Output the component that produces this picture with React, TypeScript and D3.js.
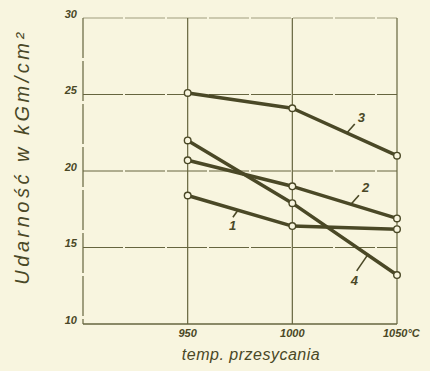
import { scaleLinear, line } from "d3";

const width = 430;
const height = 371;

// temperatura przesycania, °C
const temps = [950, 1000, 1050];
// udarność w kGm/cm² dla krzywych 1..4
const curve1 = [18.4, 16.4, 16.2];
const curve2 = [20.7, 19.0, 16.9];
const curve3 = [25.1, 24.1, 21.0];
const curve4 = [22.0, 17.9, 13.2];
const curveNames = ["1", "2", "3", "4"];
// where the label leader touches each curve (°C)
const labelAt = [974, 1028, 1026, 1036];

const xTicks = [950, 1000, 1050];
const xTickLabels = ["950", "1000", "1050°C"];
const yTicks = [10, 15, 20, 25, 30];

const ink = "#4a4826";
const gridInk = "#66653f";
const paper = "#f8f5df";

// leader/label offsets in px per curve
const labelStyle = [
  { lx: -5, ly: 7, tx: -9, ty: 20 },
  { lx: 8, ly: -9, tx: 11, ty: -12 },
  { lx: 8, ly: -9, tx: 11, ty: -11 },
  { lx: -11, ly: 16, tx: -17, ty: 30 },
];

const App = () => {
  const x = scaleLinear().domain([900, 1050]).range([83, 397]);
  const y = scaleLinear().domain([10, 30]).range([324, 18]);
  const series = [curve1, curve2, curve3, curve4];

  const path = line<number>()
    .x((_, i) => x(temps[i]))
    .y((d) => y(d));

  const valueAt = (vals: number[], t: number) => {
    const i = t <= temps[1] ? 0 : 1;
    const f = (t - temps[i]) / (temps[i + 1] - temps[i]);
    return vals[i] + f * (vals[i + 1] - vals[i]);
  };

  const tickFont = {
    fontFamily: "Liberation Sans, Arial, sans-serif",
    fontStyle: "italic",
    fontWeight: 700,
    fontSize: 11,
    fill: ink,
  };

  return (
    <div style={{ position: "absolute", left: 0, top: 0 }}>
      <svg width={width} height={height} style={{ display: "block" }}>
        <rect width={width} height={height} fill={paper} />

        {/* horizontal grid */}
        {yTicks.map((t) => (
          <line
            key={"h" + t}
            x1={x(900)}
            x2={x(1050)}
            y1={y(t)}
            y2={y(t)}
            stroke={gridInk}
            strokeWidth={t === 10 ? 1.4 : 1}
            strokeDasharray={t === 10 ? undefined : "40 2"}
            opacity={t === 30 ? 0.6 : 1}
          />
        ))}
        {/* vertical grid */}
        {[900, ...xTicks].map((t) => (
          <line
            key={"v" + t}
            x1={x(t)}
            x2={x(t)}
            y1={y(30)}
            y2={y(10)}
            stroke={gridInk}
            strokeWidth={1.2}
            strokeDasharray={t === 900 ? "40 3" : undefined}
          />
        ))}

        {yTicks.map((t) => (
          <text
            key={"yl" + t}
            x={77}
            y={y(t) - 3}
            textAnchor="end"
            dominantBaseline="middle"
            style={tickFont}
          >
            {t}
          </text>
        ))}
        {xTicks.map((t, i) => (
          <text
            key={"xl" + t}
            x={i === 2 ? x(t) - 14 : x(t)}
            y={337}
            textAnchor={i === 2 ? "start" : "middle"}
            style={tickFont}
          >
            {xTickLabels[i]}
          </text>
        ))}

        {series.map((s, k) => (
          <path
            key={"c" + k}
            d={path(s) || ""}
            fill="none"
            stroke={ink}
            strokeWidth={3.5}
            strokeLinejoin="round"
          />
        ))}
        {series.map((s, k) =>
          s.map((v, i) => (
            <circle
              key={"p" + k + i}
              cx={x(temps[i])}
              cy={y(v)}
              r={3.3}
              fill={paper}
              stroke={ink}
              strokeWidth={1.4}
            />
          ))
        )}

        {series.map((s, k) => {
          const px = x(labelAt[k]);
          const py = y(valueAt(s, labelAt[k]));
          const o = labelStyle[k];
          return (
            <g key={"lab" + k}>
              <line
                x1={px}
                y1={py}
                x2={px + o.lx}
                y2={py + o.ly}
                stroke={ink}
                strokeWidth={1.6}
              />
              <text
                x={px + o.tx}
                y={py + o.ty}
                style={{ ...tickFont, fontSize: 13 }}
              >
                {curveNames[k]}
              </text>
            </g>
          );
        })}

        <text
          x={251}
          y={360}
          textAnchor="middle"
          style={{
            fontFamily: "Liberation Sans, Arial, sans-serif",
            fontStyle: "italic",
            fontSize: 16,
            letterSpacing: 0.5,
            fill: ink,
          }}
        >
          temp. przesycania
        </text>
        <text
          transform="translate(29,157) rotate(-90)"
          textAnchor="middle"
          style={{
            fontFamily: "Liberation Sans, Arial, sans-serif",
            fontStyle: "italic",
            fontSize: 20,
            letterSpacing: 3.5,
            fill: ink,
          }}
        >
          Udarność w kGm/cm²
        </text>
      </svg>
    </div>
  );
};

export default App;
